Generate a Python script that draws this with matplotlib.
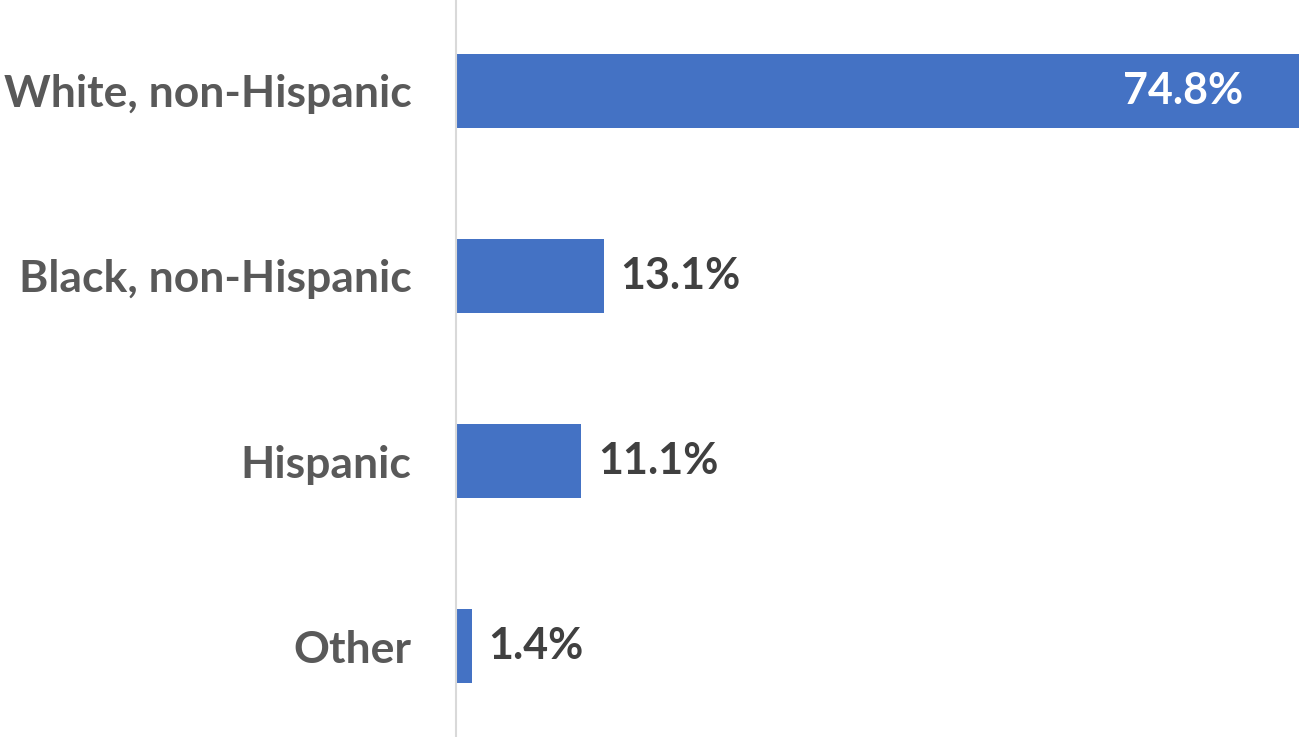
import matplotlib.pyplot as plt

categories = ["White, non-Hispanic", "Black, non-Hispanic", "Hispanic", "Other"]
shares = [74.8, 13.1, 11.1, 1.4]

plt.rcParams['font.family'] = ['Lato', 'DejaVu Sans']

fig = plt.figure(figsize=(12.99, 7.37), dpi=100)
ax = fig.add_axes([0.351, 0.0, 0.649, 1.0])

ypos = list(range(len(categories)))
ax.barh(ypos, shares, height=0.4, color="#4472C4")

ax.set_xlim(0, 74.8)
ax.set_ylim(len(categories) - 0.51, -0.49)

ax.set_yticks(ypos)
ax.set_yticklabels(categories, fontsize=32, fontweight="bold", color="#595959")
ax.tick_params(axis="y", length=0, pad=32)
ax.set_xticks([])

for side in ["top", "right", "bottom"]:
    ax.spines[side].set_visible(False)
ax.spines["left"].set_color("#D9D9D9")
ax.spines["left"].set_linewidth(1.5)

for y, v in zip(ypos, shares):
    label = "{:.1f}%".format(v)
    if v > 50:
        ax.text(v - 5.0, y, label, ha="right", va="center", fontsize=31,
                fontweight="bold", color="white")
    else:
        ax.text(v + 1.5, y, label, ha="left", va="center", fontsize=31,
                fontweight="bold", color="#404040")

plt.savefig("out.png")
